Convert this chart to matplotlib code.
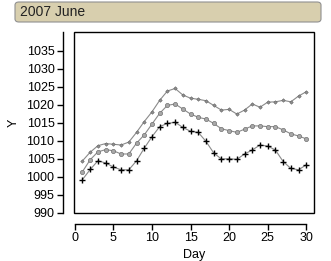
import matplotlib
matplotlib.use("Agg")
import matplotlib.pyplot as plt
from matplotlib.patches import Rectangle, FancyBboxPatch

plt.rcParams['font.family'] = ['Liberation Sans', 'DejaVu Sans']

days = list(range(1, 31))
series_top = [1004.4, 1006.8, 1008.6, 1009.2, 1009.0, 1008.8, 1009.6, 1012.3, 1015.3, 1018.0,
              1021.2, 1023.8, 1024.5, 1022.7, 1021.8, 1021.5, 1021.1, 1019.8, 1018.5, 1018.7,
              1017.4, 1018.5, 1020.2, 1019.3, 1020.7, 1020.8, 1021.2, 1020.8, 1022.4, 1023.6]
series_mid = [1001.4, 1004.7, 1006.9, 1007.5, 1007.2, 1006.3, 1006.3, 1009.3, 1011.6, 1014.6,
              1017.6, 1019.8, 1020.2, 1018.8, 1017.4, 1016.5, 1016.0, 1014.8, 1013.3, 1012.8,
              1012.3, 1013.2, 1014.1, 1014.1, 1013.9, 1013.9, 1013.0, 1011.9, 1011.3, 1010.5]
series_low = [999.2, 1002.0, 1004.4, 1003.8, 1002.7, 1001.9, 1001.9, 1004.4, 1007.9, 1011.1,
              1013.9, 1014.8, 1015.1, 1013.7, 1012.6, 1012.3, 1009.8, 1006.6, 1004.9, 1005.0,
              1004.8, 1006.3, 1007.4, 1008.8, 1008.5, 1007.4, 1004.2, 1002.3, 1001.9, 1003.3]
x_ticks = [0, 5, 10, 15, 20, 25, 30]
y_ticks = [990, 995, 1000, 1005, 1010, 1015, 1020, 1025, 1030, 1035]
title = "2007 June"

fig = plt.figure(figsize=(3.31, 2.61), dpi=100)
ax = fig.add_axes([74/331, (261-213)/261, 240/331, 181/261])

line_col = '#8a8a8a'
ax.plot(days, series_top, color=line_col, lw=0.8, marker='D', ms=1.8,
        mfc='#909090', mec='#606060', mew=0.4)
ax.plot(days, series_mid, color=line_col, lw=0.8, marker='o', ms=3.0,
        mfc='#a8a8a8', mec='#707070', mew=0.5)
ax.plot(days, series_low, color=line_col, lw=0.8, marker='+', ms=5,
        mec='black', mew=1.0)

ax.set_xlim(-0.1, 31)
ax.set_ylim(989.9, 1040.2)
ax.set_xticks(x_ticks)
ax.set_yticks(y_ticks)

for s in ['top', 'right']:
    ax.spines[s].set_visible(False)
ax.spines['left'].set_position(('outward', 8))
ax.spines['bottom'].set_position(('outward', 8))
ax.spines['bottom'].set_bounds(0, 30)
ax.spines['left'].set_bounds(989.9, 1040.2)
for s in ['left', 'bottom']:
    ax.spines[s].set_linewidth(1.0)
ax.add_patch(Rectangle((0, 0), 1, 1, transform=ax.transAxes, fill=False,
                       edgecolor='black', lw=1.0, clip_on=False))

ax.tick_params(axis='both', direction='out', length=4, width=1.0,
               labelsize=9, colors='black', pad=2)
ax.set_xlabel('Day', fontsize=9, labelpad=3)
ax.set_ylabel('Y', fontsize=9, labelpad=5)

box = FancyBboxPatch((15/331, (261-22)/261), 306/331, 20/261,
                     boxstyle='round,pad=0,rounding_size=0.012',
                     transform=fig.transFigure, facecolor='#d8cfae',
                     edgecolor='#909090', lw=0.8)
fig.patches.append(box)
fig.text(20/331, (261-12.5)/261, title, fontsize=10, va='center', ha='left',
         color='#222222')

fig.savefig('out.png', dpi=100)
